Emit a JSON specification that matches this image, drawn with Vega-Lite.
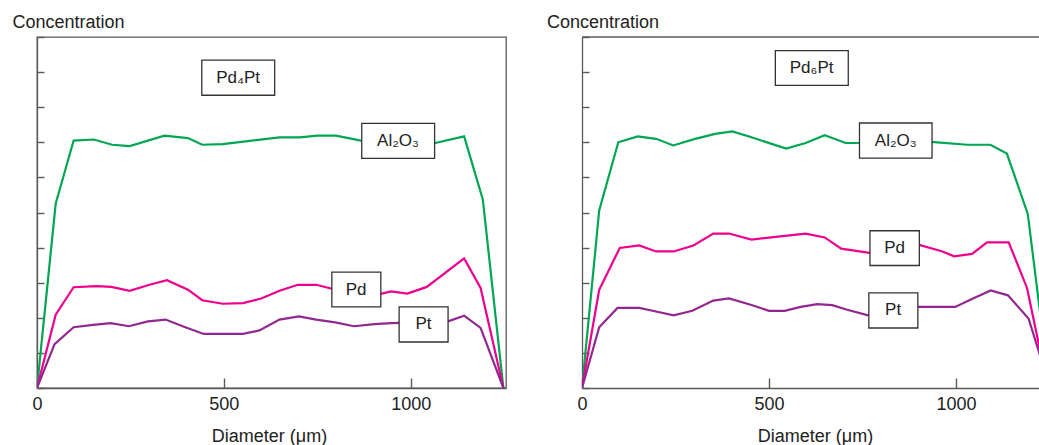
{
  "$schema": "https://vega.github.io/schema/vega-lite/v6.json",
  "background": "white",
  "padding": {"left": 11, "top": 12, "right": 0, "bottom": 1},
  "spacing": 76,
  "bounds": "flush",
  "config": {
    "font": "Liberation Sans",
    "view": {"stroke": null},
    "axis": {
      "grid": false,
      "domainColor": "#5a5a5a",
      "domainWidth": 1.3,
      "tickColor": "#5a5a5a",
      "tickWidth": 1.4,
      "labelFont": "Liberation Sans",
      "labelFontSize": 18,
      "labelColor": "#222222",
      "titleFont": "Liberation Sans",
      "titleFontSize": 18,
      "titleFontWeight": "normal",
      "titleColor": "#222222"
    }
  },
  "datasets": {
    "linesLeft": [
      {"element": "Al2O3", "x": 0, "y": 0}, {"element": "Al2O3", "x": 50, "y": 5.25}, {"element": "Al2O3", "x": 98, "y": 7.05}, {"element": "Al2O3", "x": 152, "y": 7.08}, {"element": "Al2O3", "x": 201, "y": 6.93}, {"element": "Al2O3", "x": 248, "y": 6.89}, {"element": "Al2O3", "x": 341, "y": 7.19}, {"element": "Al2O3", "x": 404, "y": 7.12}, {"element": "Al2O3", "x": 442, "y": 6.93}, {"element": "Al2O3", "x": 497, "y": 6.95}, {"element": "Al2O3", "x": 649, "y": 7.14}, {"element": "Al2O3", "x": 702, "y": 7.14}, {"element": "Al2O3", "x": 751, "y": 7.19}, {"element": "Al2O3", "x": 800, "y": 7.19}, {"element": "Al2O3", "x": 880, "y": 7.02}, {"element": "Al2O3", "x": 1066, "y": 6.98}, {"element": "Al2O3", "x": 1143, "y": 7.17}, {"element": "Al2O3", "x": 1193, "y": 5.37}, {"element": "Al2O3", "x": 1248, "y": 0},
      {"element": "Pd", "x": 0, "y": 0}, {"element": "Pd", "x": 50, "y": 2.09}, {"element": "Pd", "x": 98, "y": 2.87}, {"element": "Pd", "x": 159, "y": 2.9}, {"element": "Pd", "x": 199, "y": 2.88}, {"element": "Pd", "x": 248, "y": 2.77}, {"element": "Pd", "x": 301, "y": 2.94}, {"element": "Pd", "x": 348, "y": 3.07}, {"element": "Pd", "x": 404, "y": 2.8}, {"element": "Pd", "x": 442, "y": 2.5}, {"element": "Pd", "x": 497, "y": 2.4}, {"element": "Pd", "x": 551, "y": 2.42}, {"element": "Pd", "x": 600, "y": 2.55}, {"element": "Pd", "x": 649, "y": 2.77}, {"element": "Pd", "x": 698, "y": 2.94}, {"element": "Pd", "x": 747, "y": 2.94}, {"element": "Pd", "x": 800, "y": 2.8}, {"element": "Pd", "x": 920, "y": 2.68}, {"element": "Pd", "x": 947, "y": 2.75}, {"element": "Pd", "x": 991, "y": 2.69}, {"element": "Pd", "x": 1043, "y": 2.88}, {"element": "Pd", "x": 1143, "y": 3.69}, {"element": "Pd", "x": 1187, "y": 2.85}, {"element": "Pd", "x": 1248, "y": 0},
      {"element": "Pt", "x": 0, "y": 0}, {"element": "Pt", "x": 47, "y": 1.25}, {"element": "Pt", "x": 98, "y": 1.73}, {"element": "Pt", "x": 150, "y": 1.8}, {"element": "Pt", "x": 197, "y": 1.85}, {"element": "Pt", "x": 246, "y": 1.76}, {"element": "Pt", "x": 297, "y": 1.9}, {"element": "Pt", "x": 344, "y": 1.95}, {"element": "Pt", "x": 395, "y": 1.74}, {"element": "Pt", "x": 446, "y": 1.54}, {"element": "Pt", "x": 497, "y": 1.54}, {"element": "Pt", "x": 551, "y": 1.54}, {"element": "Pt", "x": 595, "y": 1.64}, {"element": "Pt", "x": 649, "y": 1.95}, {"element": "Pt", "x": 701, "y": 2.04}, {"element": "Pt", "x": 747, "y": 1.95}, {"element": "Pt", "x": 798, "y": 1.87}, {"element": "Pt", "x": 848, "y": 1.76}, {"element": "Pt", "x": 903, "y": 1.82}, {"element": "Pt", "x": 948, "y": 1.85}, {"element": "Pt", "x": 1000, "y": 1.86}, {"element": "Pt", "x": 1100, "y": 1.9}, {"element": "Pt", "x": 1143, "y": 2.06}, {"element": "Pt", "x": 1187, "y": 1.71}, {"element": "Pt", "x": 1248, "y": 0}
    ],
    "linesRight": [
      {"element": "Al2O3", "x": 0, "y": 0}, {"element": "Al2O3", "x": 46, "y": 5.06}, {"element": "Al2O3", "x": 97, "y": 7.0}, {"element": "Al2O3", "x": 149, "y": 7.17}, {"element": "Al2O3", "x": 198, "y": 7.1}, {"element": "Al2O3", "x": 244, "y": 6.91}, {"element": "Al2O3", "x": 300, "y": 7.09}, {"element": "Al2O3", "x": 356, "y": 7.24}, {"element": "Al2O3", "x": 402, "y": 7.31}, {"element": "Al2O3", "x": 451, "y": 7.15}, {"element": "Al2O3", "x": 546, "y": 6.82}, {"element": "Al2O3", "x": 598, "y": 6.98}, {"element": "Al2O3", "x": 649, "y": 7.2}, {"element": "Al2O3", "x": 705, "y": 6.98}, {"element": "Al2O3", "x": 740, "y": 6.98}, {"element": "Al2O3", "x": 933, "y": 7.01}, {"element": "Al2O3", "x": 1030, "y": 6.93}, {"element": "Al2O3", "x": 1092, "y": 6.93}, {"element": "Al2O3", "x": 1136, "y": 6.68}, {"element": "Al2O3", "x": 1192, "y": 4.96}, {"element": "Al2O3", "x": 1250, "y": 0},
      {"element": "Pd", "x": 0, "y": 0}, {"element": "Pd", "x": 46, "y": 2.8}, {"element": "Pd", "x": 101, "y": 3.99}, {"element": "Pd", "x": 153, "y": 4.06}, {"element": "Pd", "x": 198, "y": 3.89}, {"element": "Pd", "x": 245, "y": 3.89}, {"element": "Pd", "x": 298, "y": 4.06}, {"element": "Pd", "x": 351, "y": 4.4}, {"element": "Pd", "x": 393, "y": 4.4}, {"element": "Pd", "x": 453, "y": 4.23}, {"element": "Pd", "x": 598, "y": 4.4}, {"element": "Pd", "x": 649, "y": 4.29}, {"element": "Pd", "x": 693, "y": 3.97}, {"element": "Pd", "x": 769, "y": 3.85}, {"element": "Pd", "x": 897, "y": 4.09}, {"element": "Pd", "x": 964, "y": 3.89}, {"element": "Pd", "x": 995, "y": 3.75}, {"element": "Pd", "x": 1043, "y": 3.82}, {"element": "Pd", "x": 1083, "y": 4.15}, {"element": "Pd", "x": 1141, "y": 4.15}, {"element": "Pd", "x": 1190, "y": 2.85}, {"element": "Pd", "x": 1246, "y": 0},
      {"element": "Pt", "x": 0, "y": 0}, {"element": "Pt", "x": 46, "y": 1.73}, {"element": "Pt", "x": 95, "y": 2.28}, {"element": "Pt", "x": 153, "y": 2.28}, {"element": "Pt", "x": 198, "y": 2.18}, {"element": "Pt", "x": 245, "y": 2.07}, {"element": "Pt", "x": 295, "y": 2.2}, {"element": "Pt", "x": 351, "y": 2.49}, {"element": "Pt", "x": 393, "y": 2.55}, {"element": "Pt", "x": 451, "y": 2.37}, {"element": "Pt", "x": 500, "y": 2.2}, {"element": "Pt", "x": 542, "y": 2.2}, {"element": "Pt", "x": 585, "y": 2.31}, {"element": "Pt", "x": 629, "y": 2.39}, {"element": "Pt", "x": 669, "y": 2.36}, {"element": "Pt", "x": 709, "y": 2.23}, {"element": "Pt", "x": 765, "y": 2.07}, {"element": "Pt", "x": 896, "y": 2.31}, {"element": "Pt", "x": 998, "y": 2.31}, {"element": "Pt", "x": 1044, "y": 2.54}, {"element": "Pt", "x": 1093, "y": 2.78}, {"element": "Pt", "x": 1139, "y": 2.64}, {"element": "Pt", "x": 1194, "y": 1.98}, {"element": "Pt", "x": 1252, "y": 0}
    ],
    "boxesLeft": [
      {"label": "Pd₄Pt", "x1": 441, "x2": 636, "y1": 8.34, "y2": 9.34, "cx": 538, "cy": 8.84},
      {"label": "Al₂O₃", "x1": 869, "x2": 1064, "y1": 6.54, "y2": 7.54, "cx": 966, "cy": 7.04},
      {"label": "Pd", "x1": 789, "x2": 920, "y1": 2.31, "y2": 3.3, "cx": 854, "cy": 2.8},
      {"label": "Pt", "x1": 969, "x2": 1100, "y1": 1.31, "y2": 2.31, "cx": 1034, "cy": 1.81}
    ],
    "boxesRight": [
      {"label": "Pd₆Pt", "x1": 517, "x2": 712, "y1": 8.62, "y2": 9.61, "cx": 614, "cy": 9.12},
      {"label": "Al₂O₃", "x1": 742, "x2": 936, "y1": 6.55, "y2": 7.55, "cx": 839, "cy": 7.05},
      {"label": "Pd", "x1": 770, "x2": 902, "y1": 3.49, "y2": 4.48, "cx": 836, "cy": 3.98},
      {"label": "Pt", "x1": 767, "x2": 898, "y1": 1.71, "y2": 2.71, "cx": 832, "cy": 2.21}
    ]
  },
  "hconcat": [
    {
      "width": 469,
      "height": 351,
      "view": {"stroke": "#5a5a5a", "strokeWidth": 1.3},
      "layer": [
        {
          "data": {"name": "linesLeft"},
          "mark": {"type": "line", "strokeWidth": 2.2, "clip": true},
          "encoding": {
            "x": {"field": "x", "type": "quantitative",
              "scale": {"domain": [0, 1255], "nice": false, "zero": false},
              "axis": {"values": [0, 500, 1000], "tickCount": 20, "format": "d", "tickSize": -10, "labelPadding": 17, "labelFlush": false,
                "title": "Diameter (μm)", "titleX": 232, "titleY": 39, "titleAlign": "center", "titleBaseline": "top"}},
            "y": {"field": "y", "type": "quantitative",
              "scale": {"domain": [0, 10], "nice": false},
              "axis": {"values": [0, 1, 2, 3, 4, 5, 6, 7, 8, 9, 10], "tickCount": 20, "tickSize": -7, "labels": false,
                "title": "Concentration", "titleAngle": 0, "titleX": -25, "titleY": -24, "titleAlign": "left", "titleBaseline": "top"}},
            "color": {"field": "element", "type": "nominal",
              "scale": {"domain": ["Al2O3", "Pd", "Pt"], "range": ["#00a651", "#ec008c", "#92278f"]}, "legend": null}
          }
        },
        {
          "data": {"name": "boxesLeft"},
          "mark": {"type": "rect", "fill": "white", "stroke": "#333333", "strokeWidth": 1.3},
          "encoding": {
            "x": {"field": "x1", "type": "quantitative"},
            "x2": {"field": "x2"},
            "y": {"field": "y1", "type": "quantitative"},
            "y2": {"field": "y2"}
          }
        },
        {
          "data": {"name": "boxesLeft"},
          "mark": {"type": "text", "fontSize": 17, "font": "Liberation Sans", "color": "#222222", "baseline": "middle", "align": "center"},
          "encoding": {
            "x": {"field": "cx", "type": "quantitative"},
            "y": {"field": "cy", "type": "quantitative"},
            "text": {"field": "label"}
          }
        }
      ]
    },
    {
      "width": 457,
      "height": 351,
      "view": {"stroke": null},
      "layer": [
        {
          "data": {"name": "linesRight"},
          "mark": {"type": "line", "strokeWidth": 2.2, "clip": true},
          "encoding": {
            "x": {"field": "x", "type": "quantitative",
              "scale": {"domain": [0, 1222], "nice": false, "zero": false},
              "axis": {"values": [0, 500, 1000], "tickCount": 20, "format": "d", "tickSize": -10, "labelPadding": 17, "labelFlush": false,
                "title": "Diameter (μm)", "titleX": 233, "titleY": 39, "titleAlign": "center", "titleBaseline": "top"}},
            "y": {"field": "y", "type": "quantitative",
              "scale": {"domain": [0, 10], "nice": false},
              "axis": {"values": [0, 1, 2, 3, 4, 5, 6, 7, 8, 9, 10], "tickCount": 20, "tickSize": -7, "labels": false,
                "title": "Concentration", "titleAngle": 0, "titleX": -35.5, "titleY": -24, "titleAlign": "left", "titleBaseline": "top"}},
            "color": {"field": "element", "type": "nominal",
              "scale": {"domain": ["Al2O3", "Pd", "Pt"], "range": ["#00a651", "#ec008c", "#92278f"]}, "legend": null}
          }
        },
        {
          "data": {"values": [{"top": 10}]},
          "mark": {"type": "rule", "color": "#5a5a5a", "strokeWidth": 1.3},
          "encoding": {"y": {"field": "top", "type": "quantitative"}}
        },
        {
          "data": {"name": "boxesRight"},
          "mark": {"type": "rect", "fill": "white", "stroke": "#333333", "strokeWidth": 1.3},
          "encoding": {
            "x": {"field": "x1", "type": "quantitative"},
            "x2": {"field": "x2"},
            "y": {"field": "y1", "type": "quantitative"},
            "y2": {"field": "y2"}
          }
        },
        {
          "data": {"name": "boxesRight"},
          "mark": {"type": "text", "fontSize": 17, "font": "Liberation Sans", "color": "#222222", "baseline": "middle", "align": "center"},
          "encoding": {
            "x": {"field": "cx", "type": "quantitative"},
            "y": {"field": "cy", "type": "quantitative"},
            "text": {"field": "label"}
          }
        }
      ]
    }
  ]
}
